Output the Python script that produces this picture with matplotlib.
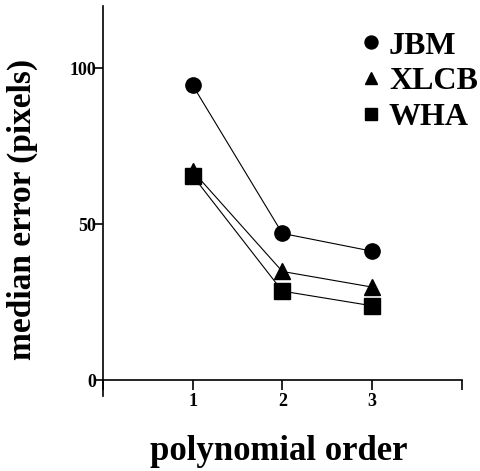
import matplotlib
matplotlib.use('Agg')
import matplotlib.pyplot as plt

# data
orders = [1, 2, 3]
jbm = [94.5, 47.0, 41.3]
xlcb = [67.0, 34.8, 29.8]
wha = [65.5, 28.5, 23.8]

plt.rcParams['font.family'] = ['Liberation Serif', 'DejaVu Serif']
plt.rcParams['font.weight'] = 'bold'

fig = plt.figure(figsize=(4.81, 4.71), dpi=100)
ax = fig.add_axes([0.214, 0.160, 0.746, 0.828])

ax.plot(orders, jbm, color='black', lw=0.8, marker='o', ms=11, label='JBM')
ax.plot(orders, xlcb, color='black', lw=0.8, marker='^', ms=11, label='XLCB')
ax.plot(orders, wha, color='black', lw=0.8, marker='s', ms=11, label='WHA')

ax.set_xlim(0, 4)
ax.set_ylim(-5, 120)
ax.spines['left'].set_position(('data', 0))
ax.spines['bottom'].set_position(('data', 0))
ax.spines['top'].set_visible(False)
ax.spines['right'].set_visible(False)
ax.spines['left'].set_linewidth(1.2)
ax.spines['bottom'].set_linewidth(1.2)

ax.set_xticks([0, 1, 2, 3, 4])
ax.set_xticklabels(['', '1', '2', '3', ''])
ax.set_yticks([0, 50, 100])
ax.tick_params(axis='x', direction='out', length=7, width=1.2, labelsize=13, pad=2)
ax.tick_params(axis='y', direction='out', length=6, width=1.2, labelsize=13, pad=-1)
for lab in ax.get_xticklabels() + ax.get_yticklabels():
    lab.set_fontweight('bold')

fig.text(0.046, 0.555, 'median error (pixels)', rotation=90, ha='center', va='center',
         fontsize=24, fontweight='bold')
fig.text(0.58, 0.042, 'polynomial order', ha='center', va='center',
         fontsize=25, fontweight='bold')

leg = ax.legend(loc='upper right', bbox_to_anchor=(1.125, 1.008), frameon=False,
                handlelength=0.5, handletextpad=0.3, labelspacing=0.2,
                markerscale=0.85, prop={'size': 23, 'weight': 'bold'})
for h in leg.get_lines():
    h.set_linestyle('none')

fig.savefig('out.png', dpi=100)
